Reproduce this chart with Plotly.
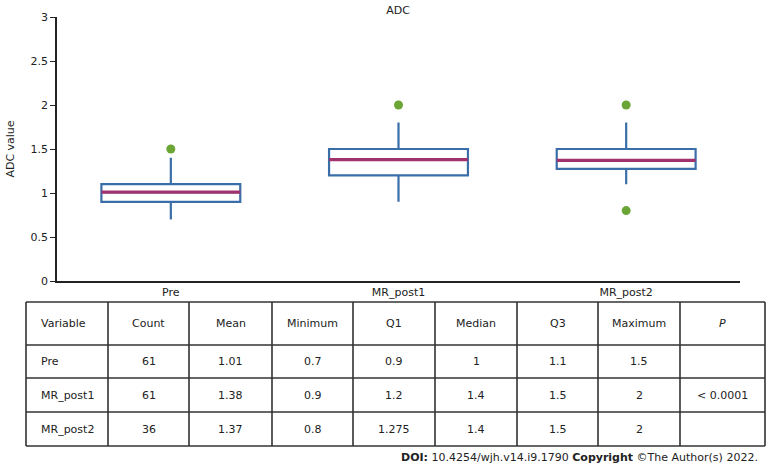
"""
ADC box plot with summary table (Pre / MR_post1 / MR_post2)
"""

import plotly.graph_objects as go

# values
groups = ['Pre', 'MR_post1', 'MR_post2']
counts = [61, 61, 36]
means = [1.01, 1.38, 1.37]
minimums = [0.7, 0.9, 0.8]
q1 = [0.9, 1.2, 1.275]
medians = [1, 1.4, 1.4]
q3 = [1.1, 1.5, 1.5]
maximums = [1.5, 2, 2]
p_values = ['', '< 0.0001', '']

# whisker ends and outliers as drawn
whisker_low = [0.7, 0.9, 1.1]
whisker_high = [1.4, 1.8, 1.8]
outlier_x = ['Pre', 'MR_post1', 'MR_post2', 'MR_post2']
outlier_y = [1.5, 2, 2, 0.8]

table_header = ['Variable', 'Count', 'Mean', 'Minimum', 'Q1', 'Median', 'Q3', 'Maximum', '<i>P</i>']

blue = '#3A6EA8'
magenta = '#A0336E'
green = '#6BA536'
ink = '#222222'
font = 'DejaVu Sans'

W, H = 768, 466
# table grid, in page pixels
col_edges = [26, 108, 189, 272, 353, 435, 517, 598, 680, 765]
row_edges = [302, 345, 378, 412, 446]

fig = go.Figure()

fig.add_trace(go.Box(
    x=groups, q1=q1, median=means, q3=q3,
    lowerfence=whisker_low, upperfence=whisker_high,
    fillcolor='white', line=dict(color=blue, width=2.2),
    whiskerwidth=0, boxpoints=False, hoverinfo='skip', showlegend=False,
))
# line across the box at the mean level
fig.add_trace(go.Box(
    x=groups, q1=means, median=means, q3=means,
    lowerfence=means, upperfence=means,
    fillcolor='rgba(0,0,0,0)', line=dict(color=magenta, width=3.2),
    whiskerwidth=0, boxpoints=False, hoverinfo='skip', showlegend=False,
))
fig.add_trace(go.Scatter(
    x=outlier_x, y=outlier_y, mode='markers',
    marker=dict(color=green, size=9), hoverinfo='skip', showlegend=False,
))

# summary table: grid lines + cell texts
px_x = lambda v: v / W
px_y = lambda v: 1 - v / H
for yy in row_edges:
    fig.add_shape(type='line', xref='paper', yref='paper',
                  x0=px_x(col_edges[0]), x1=px_x(col_edges[-1]), y0=px_y(yy), y1=px_y(yy),
                  line=dict(color='#333333', width=1.6))
for xx in col_edges:
    fig.add_shape(type='line', xref='paper', yref='paper',
                  x0=px_x(xx), x1=px_x(xx), y0=px_y(row_edges[0]), y1=px_y(row_edges[-1]),
                  line=dict(color='#333333', width=1.6))

columns = [groups, counts, means, minimums, q1, medians, q3, maximums, p_values]
rows = [table_header] + [[str(col[i]) for col in columns] for i in range(len(groups))]
for r, row in enumerate(rows):
    yc = px_y((row_edges[r] + row_edges[r + 1]) / 2)
    for c, txt in enumerate(row):
        if c == 0:
            xc, anchor = px_x(col_edges[0] + 13), 'left'
        else:
            xc, anchor = px_x((col_edges[c] + col_edges[c + 1]) / 2), 'center'
        fig.add_annotation(x=xc, y=yc, xref='paper', yref='paper', text=txt,
                           xanchor=anchor, yanchor='middle', showarrow=False,
                           font=dict(family=font, size=11, color=ink))

fig.add_annotation(
    x=760 / W, y=1 - 457 / H, xref='paper', yref='paper',
    xanchor='right', yanchor='middle', showarrow=False,
    text='<b>DOI:</b> 10.4254/wjh.v14.i9.1790 <b>Copyright</b> ©The Author(s) 2022.',
    font=dict(family=font, size=11, color=ink),
)

fig.update_layout(
    width=W, height=H,
    margin=dict(l=0, r=0, t=0, b=0),
    plot_bgcolor='white', paper_bgcolor='white',
    font=dict(family=font, size=11, color=ink),
    title=dict(text='ADC', x=398 / W, xanchor='center', y=1 - 10 / H, yanchor='middle',
               font=dict(family=font, size=11)),
    boxmode='overlay', boxgap=0.39, boxgroupgap=0,
    xaxis=dict(domain=[57 / W, 740 / W], showline=True, linecolor=ink, linewidth=1.5,
               ticks='', showgrid=False, zeroline=False, automargin=False),
    yaxis=dict(domain=[1 - 281 / H, 1 - 17 / H], range=[0, 3], dtick=0.5,
               showline=True, linecolor=ink, linewidth=1.5,
               ticks='outside', ticklen=5, tickcolor=ink,
               showgrid=False, zeroline=False, automargin=False,
               title=dict(text='ADC value', standoff=14, font=dict(size=11))),
)

# drop the page's default body margin so the figure fills the window
fig.write_html('out.html', config={'displayModeBar': False},
               post_script="document.body.style.margin='0';")
